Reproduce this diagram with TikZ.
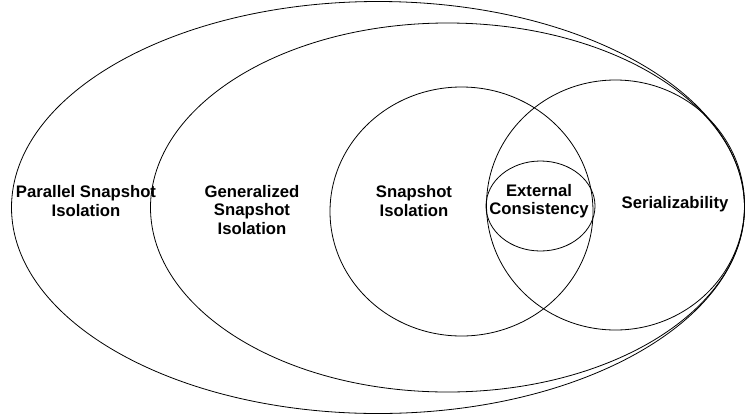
\documentclass[tikz,border=0pt]{standalone}
\usepackage{fontspec}
\setmainfont{Liberation Sans}
\usetikzlibrary{shapes.geometric}
\begin{document}
\begin{tikzpicture}[x=1pt,y=-1pt,
  setshape/.style={draw, ellipse, inner sep=0pt, line width=0.8pt},
  setlabel/.style={font=\bfseries\fontsize{16.7}{18.5}\selectfont, align=center, inner sep=0pt}]
\useasboundingbox (0,0) rectangle (746,418);
% nested isolation levels
\node[setshape, minimum width=733pt, minimum height=412pt] (psi) at (378,207.5) {};
\node[setshape, minimum width=594pt, minimum height=369pt] (gsi) at (447.5,207.5) {};
\node[setshape, minimum width=263pt, minimum height=249pt] (si) at (461.5,211.5) {};
\node[setshape, minimum width=258pt, minimum height=250pt] (ser) at (615.5,205) {};
\node[setshape, minimum width=109pt, minimum height=90pt] (ec) at (540.5,206) {};
% labels
\node[setlabel] (psilbl) at (86,201) {Parallel Snapshot\\Isolation};
\node[setlabel] (gsilbl) at (252,210) {Generalized\\Snapshot\\Isolation};
\node[setlabel] (silbl) at (414,201) {Snapshot\\Isolation};
\node[setlabel] (eclbl) at (539,201) {External\\Consistency};
\node[setlabel] (serlbl) at (675,204) {Serializability};
\end{tikzpicture}
\end{document}
